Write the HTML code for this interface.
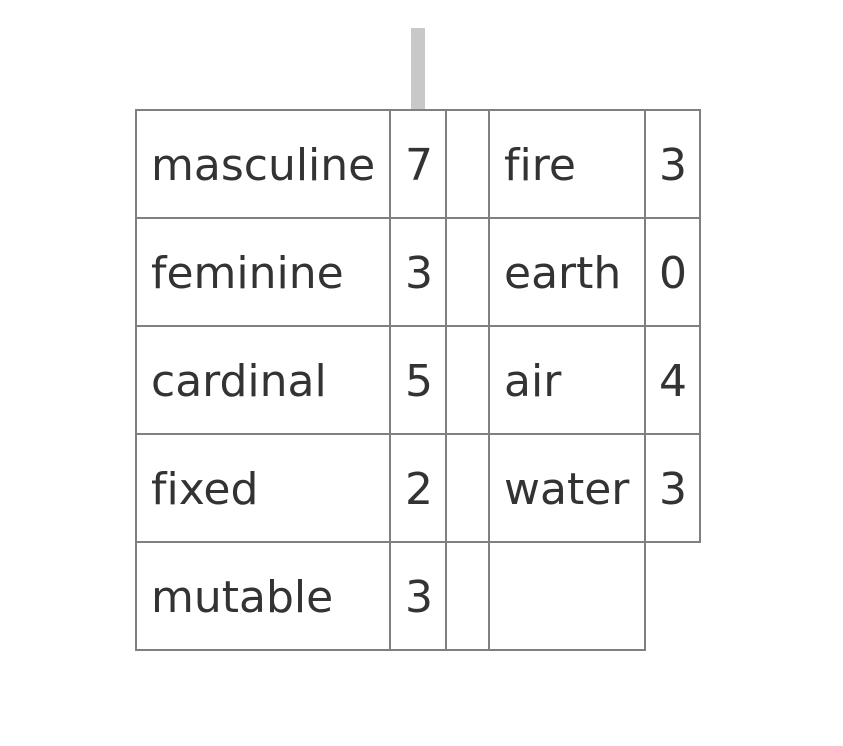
<!DOCTYPE html>
<html><head><meta charset="utf-8"><style>
html,body{margin:0;padding:0;background:#fff;width:843px;height:746px;overflow:hidden}
svg text{font-family:"DejaVu Sans","Liberation Sans",sans-serif;font-size:44px;fill:#333;font-variant-ligatures:none}
</style></head><body>
<svg id="chart" width="843" height="746" xmlns="http://www.w3.org/2000/svg">
<rect x="411" y="28" width="14" height="82" fill="#c8c8c8"/>
</svg>
<script>
const leftLabels = ["masculine","feminine","cardinal","fixed","mutable"];
const leftValues = [7,3,5,2,3];
const rightLabels = ["fire","earth","air","water"];
const rightValues = [3,0,4,3];
const svg = document.getElementById('chart');
const NS = "http://www.w3.org/2000/svg";
const top0 = 110, rowH = 108, base = 70;
function rect(x,y,w,h,name){
  const r=document.createElementNS(NS,'rect');
  r.setAttribute('x',x);r.setAttribute('y',y);r.setAttribute('width',w);r.setAttribute('height',h);
  r.setAttribute('fill','none');r.setAttribute('stroke','#808080');r.setAttribute('stroke-width','2');
  
  
  svg.appendChild(r);
}
function text(x,y,s,name){
  const t=document.createElementNS(NS,'text');
  t.setAttribute('x',x);t.setAttribute('y',y);t.textContent=s;
  
  
  svg.appendChild(t);
}
leftLabels.forEach((l,i)=>{
  const y=top0+i*rowH;
  rect(136,y,254,rowH,'left-label-cell');
  rect(390,y,56,rowH,'left-value-cell');
  rect(446,y,43,rowH,'spacer-cell');
  text(151,y+base,l,'left-label');
  text(405,y+base,String(leftValues[i]),'left-value');
});
rightLabels.forEach((l,i)=>{
  const y=top0+i*rowH;
  rect(489,y,156,rowH,'right-label-cell');
  rect(645,y,55,rowH,'right-value-cell');
  text(504,y+base,l,'right-label');
  text(659,y+base,String(rightValues[i]),'right-value');
});
for(let i=rightLabels.length;i<leftLabels.length;i++){
  rect(489,top0+i*rowH,156,rowH,'empty-cell');
}
</script>
</body></html>
